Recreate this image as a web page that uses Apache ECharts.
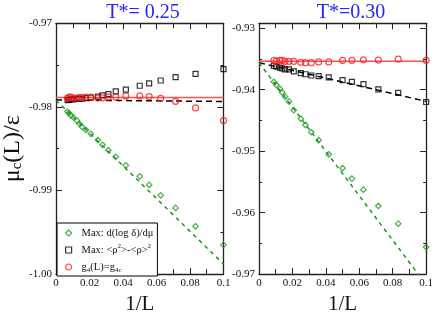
<!DOCTYPE html>
<html>
<head>
<meta charset="UTF-8">
<style>
  html, body { margin: 0; padding: 0; width: 100%; height: 100%; overflow: hidden; background: #fff; }
  #chart { width: 436px; height: 320px; }
</style>
<script src="https://cdn.jsdelivr.net/npm/echarts@6/dist/echarts.min.js"></script>
</head>
<body>
<div id="chart"></div>
<script>
// T* = 0.25 : 1/L and the three estimates of mu_c(L)
const invL25 = [0.0069, 0.0078, 0.0089, 0.0104, 0.0125, 0.0139, 0.0156, 0.0179, 0.0208, 0.025,
                0.0278, 0.0313, 0.0357, 0.0417, 0.05, 0.0556, 0.0625, 0.0714, 0.0833, 0.1];
const dlog25 = [-0.98058, -0.98076, -0.98103, -0.98126, -0.98165, -0.98200, -0.98240, -0.98276, -0.98322, -0.98397,
                -0.98454, -0.98518, -0.98597, -0.98699, -0.98831, -0.98933, -0.99058, -0.99208, -0.99428, -0.9965];
const fluct25 = [-0.9792, -0.97915, -0.9791, -0.9791, -0.97905, -0.97905, -0.979, -0.97895, -0.97888, -0.97877,
                 -0.97863, -0.97846, -0.97815, -0.97793, -0.97747, -0.97718, -0.97684, -0.97645, -0.97605, -0.97548];
const g4_25 = [-0.97895, -0.97883, -0.97883, -0.97895, -0.97895, -0.97888, -0.97888, -0.97883, -0.97883, -0.97895,
               -0.97891, -0.97883, -0.97883, -0.97869, -0.97869, -0.97877, -0.97899, -0.97933, -0.98012, -0.98163];

// T* = 0.30
const invL30 = [0.0089, 0.0104, 0.0125, 0.0139, 0.0156, 0.0179, 0.0208, 0.025, 0.0278,
                0.0313, 0.0357, 0.0417, 0.05, 0.0556, 0.0625, 0.0714, 0.0833, 0.1];
const dlog30 = [-0.93872, -0.93923, -0.93985, -0.94046, -0.94114, -0.94191, -0.94334, -0.94472, -0.94575,
                -0.94692, -0.94822, -0.95052, -0.95277, -0.95446, -0.95626, -0.95892, -0.9618, -0.9656];
const fluct30 = [-0.93611, -0.93626, -0.93642, -0.93652, -0.93668, -0.93668, -0.93703, -0.93729, -0.93749,
                 -0.93769, -0.9378, -0.938, -0.93846, -0.93872, -0.93908, -0.93995, -0.94052, -0.942];
const g4_30 = [-0.93523, -0.93534, -0.93523, -0.93523, -0.93538, -0.93538, -0.93538, -0.93554, -0.9356,
               -0.9356, -0.93549, -0.93549, -0.93523, -0.93523, -0.93514, -0.93518, -0.93503, -0.93523];

// linear fits: value at 1/L = 0 and at 1/L = 0.1
const fitX = [0, 0.1];
const fitDlog25 = [-0.9792, -0.9988];
const fitFluct25 = [-0.97917, -0.97935];
const fitG4_25 = [-0.97888, -0.97888];
const fitDlog30 = [-0.9356, -0.9717];
const fitFluct30 = [-0.9356, -0.9419];
const fitG4_30 = [-0.93538, -0.93538];

const names = ['Max: d(log δ)/dμ', 'Max: <ρ2>-<ρ>2', 'g4(L)=g4c'];
const richNames = {
  'Max: d(log δ)/dμ': 'Max: d(log δ)/dμ',
  'Max: <ρ2>-<ρ>2': 'Max: <ρ{sup|2}>-<ρ>{sup|2}',
  'g4(L)=g4c': 'g{sub|4}(L)=g{sub|4c}'
};

const GREEN = '#1a9a1a', RED = '#ff1a1a', BLACK = '#000';
const font = 'Liberation Serif';
const ink = '#222';

function pairs(xs, ys) { return xs.map((x, i) => [x, ys[i]]); }

const chart = echarts.init(document.getElementById('chart'), null, { renderer: 'canvas' });

function xAxes(gi) {
  const base = {
    type: 'value', gridIndex: gi, min: 0, max: 0.1, interval: 0.02,
    axisLine: { show: true, onZero: false, lineStyle: { color: ink, width: 1.3 } },
    axisTick: { show: true, inside: true, length: 6, lineStyle: { color: ink } },
    minorTick: { show: true, splitNumber: 2, length: 5, lineStyle: { color: ink } },
    splitLine: { show: false }
  };
  return [
    Object.assign({}, base, {
      position: 'bottom',
      axisLabel: { fontFamily: font, fontSize: 11, color: '#111', margin: 4 },
      name: '1/L', nameLocation: 'middle', nameGap: 17,
      nameTextStyle: { fontFamily: font, fontSize: 21, color: '#111' }
    }),
    Object.assign({}, base, { position: 'top', axisLabel: { show: false } })
  ];
}

function yAxes(gi, min, max, withName) {
  const base = {
    type: 'value', gridIndex: gi, min: min, max: max, interval: 0.01,
    axisLine: { show: true, onZero: false, lineStyle: { color: ink, width: 1.3 } },
    axisTick: { show: true, inside: true, length: 6, lineStyle: { color: ink } },
    minorTick: { show: true, splitNumber: 2, length: 3, lineStyle: { color: ink } },
    splitLine: { show: false }
  };
  const left = Object.assign({}, base, {
    position: 'left',
    axisLabel: {
      fontFamily: font, fontSize: 11, color: '#111', margin: 4,
      formatter: v => Math.abs(v * 100 - Math.round(v * 100)) > 1e-6 ? '' : v.toFixed(2)
    }
  });
  if (withName) {
    Object.assign(left, {
      name: 'μ{sub|c}(L)/ε', nameLocation: 'middle', nameGap: 31,
      nameTextStyle: {
        fontFamily: font, fontSize: 24, color: '#111',
        rich: { sub: { fontFamily: font, fontSize: 15, verticalAlign: 'bottom', color: '#111' } }
      }
    });
  }
  return [left, Object.assign({}, base, { position: 'right', axisLabel: { show: false } })];
}

function panelSeries(gi, xs, dlog, fluct, g4, fits) {
  const xi = gi * 2, yi = gi * 2;
  const sc = (name, sym, size, color, ys) => ({
    type: 'scatter', name: name, xAxisIndex: xi, yAxisIndex: yi, clip: false,
    symbol: sym, symbolSize: size, z: 3,
    itemStyle: { color: 'rgba(255,255,255,0)', borderColor: color, borderWidth: 1.2 },
    data: pairs(xs, ys)
  });
  const ln = (color, type, ys, w) => ({
    type: 'line', xAxisIndex: xi, yAxisIndex: yi, symbol: 'none', silent: true, z: 2,
    lineStyle: { color: color, width: w, type: type },
    data: pairs(fitX, ys)
  });
  return [
    ln('#ff5050', 'solid', fits[2], 1.6),
    ln(BLACK, [6, 4], fits[1], 1.5),
    ln(GREEN, [4, 4], fits[0], 1.5),
    sc(names[0], 'diamond', 5.5, GREEN, dlog),
    sc(names[1], 'rect', 5, BLACK, fluct),
    sc(names[2], 'circle', 6, RED, g4)
  ];
}

const option = {
  animation: false,
  backgroundColor: '#fff',
  title: [
    { text: 'T*= 0.25', left: 138, top: -2, textAlign: 'center',
      textStyle: { fontFamily: font, fontSize: 20, fontWeight: 'normal', color: '#2323ff' } },
    { text: 'T*=0.30', left: 346, top: -2, textAlign: 'center',
      textStyle: { fontFamily: font, fontSize: 20, fontWeight: 'normal', color: '#2323ff' } }
  ],
  grid: [
    { left: 53.5, top: 23.3, width: 170, height: 265 },
    { left: 259, top: 23.3, width: 171, height: 265 }
  ],
  xAxis: xAxes(0).concat(xAxes(1)),
  yAxis: yAxes(0, -1.0, -0.97, true).concat(yAxes(1, -0.97, -0.9292, false)),
  legend: {
    data: names, orient: 'vertical', left: 57, top: 223,
    backgroundColor: '#fff', borderColor: '#000', borderWidth: 1, borderRadius: 0,
    padding: [3, 4, 2, 8], itemGap: 3, itemWidth: 6, itemHeight: 6,
    itemStyle: { borderWidth: 1.2 },
    selectedMode: false,
    formatter: n => richNames[n],
    textStyle: {
      fontFamily: font, fontSize: 10.5, color: '#111', lineHeight: 14, padding: [0, 0, 0, 5],
      rich: {
        sup: { fontFamily: font, fontSize: 7, verticalAlign: 'top', lineHeight: 14, color: '#111' },
        sub: { fontFamily: font, fontSize: 7, verticalAlign: 'bottom', lineHeight: 14, color: '#111' }
      }
    }
  },
  series: panelSeries(0, invL25, dlog25, fluct25, g4_25, [fitDlog25, fitFluct25, fitG4_25])
    .concat(panelSeries(1, invL30, dlog30, fluct30, g4_30, [fitDlog30, fitFluct30, fitG4_30]))
};

chart.setOption(option);
</script>
</body>
</html>
